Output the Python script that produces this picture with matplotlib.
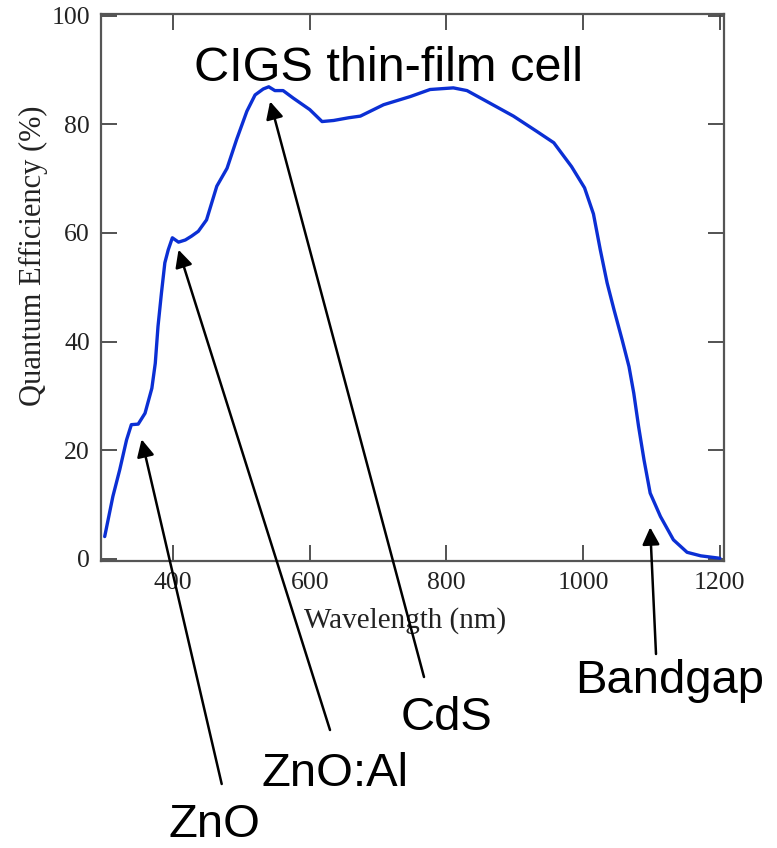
import matplotlib
matplotlib.use("Agg")
import matplotlib.pyplot as plt

# ---- data ----
wavelength = [300, 312, 322, 332, 339, 349, 359, 369, 374, 378, 383, 388, 393, 399,
              408, 418, 427, 437, 449, 464, 479, 493, 508, 520, 532, 540, 549, 561,
              576, 600, 618, 635, 657, 674, 708, 747, 776, 810, 830, 859, 898, 932,
              957, 983, 1002, 1015, 1025, 1035, 1045, 1057, 1067, 1074, 1081, 1089,
              1098, 1113, 1132, 1152, 1172, 1200]
qe = [4.1, 11.5, 16.4, 21.9, 24.7, 24.8, 26.8, 31.4, 36.0, 42.8, 48.9, 54.5, 56.9, 59.1,
      58.3, 58.7, 59.4, 60.3, 62.4, 68.6, 71.9, 77.2, 82.4, 85.4, 86.5, 86.9, 86.2, 86.2,
      84.8, 82.7, 80.5, 80.7, 81.2, 81.5, 83.6, 85.1, 86.4, 86.7, 86.2, 84.2, 81.5, 78.7,
      76.6, 72.2, 68.3, 63.5, 56.9, 50.8, 45.9, 40.3, 35.4, 30.5, 24.4, 18.2,
      12.1, 7.8, 3.5, 1.2, 0.55, 0.1]

x_ticks = [400, 600, 800, 1000, 1200]
y_ticks = [0, 20, 40, 60, 80, 100]

title_text = "CIGS thin-film cell"
ann_labels = ["ZnO", "ZnO:Al", "CdS", "Bandgap"]
ann_target_wl = [354, 408, 542, 1098]
ann_target_qe = [22.0, 56.9, 84.2, 5.8]

# layout (figure pixels, origin bottom-left)
ann_tail_px = [(221.7, 64), (330, 118), (424, 171), (656, 194)]
ann_text_px = [(214, 11), (335, 62), (446, 118), (670, 155)]

W, H = 777, 848
fig = plt.figure(figsize=(W / 100, H / 100), dpi=100)
ax = fig.add_axes([101 / W, 1 - 561 / H, (724 - 101) / W, (561 - 14) / H])

ax.plot(wavelength, qe, color="#0b2fd4", lw=2.4, solid_joinstyle="round",
        solid_capstyle="round")

ax.set_xlim(294.6, 1206)
ax.set_ylim(-0.4, 100.3)
ax.set_xticks(x_ticks)
ax.set_yticks(y_ticks)

serif = "Liberation Serif"
sans = "Liberation Sans"
ax.tick_params(direction="in", length=11.5, width=1.3, colors="#444444",
               labelcolor="#222222", labelsize=18.5, pad=8,
               top=True, right=True)
for lab in ax.get_xticklabels() + ax.get_yticklabels():
    lab.set_fontfamily(serif)
for sp in ax.spines.values():
    sp.set_color("#555555")
    sp.set_linewidth(1.6)

xl = ax.set_xlabel("Wavelength (nm)", fontfamily=serif, fontsize=21, color="#222222")
yl = ax.set_ylabel("Quantum Efficiency (%)", fontfamily=serif, fontsize=22, color="#222222")
ax.xaxis.set_label_coords(0.488, -0.108)
ax.yaxis.set_label_coords(-0.109, 0.558)
xl.set_va("center")
yl.set_va("center")

fig.text(388 / W, 767 / H, title_text, fontfamily=sans, fontsize=35,
         ha="center", va="baseline", color="black")

for lab, wl, q, tail, tpos in zip(ann_labels, ann_target_wl, ann_target_qe,
                                  ann_tail_px, ann_text_px):
    ax.annotate("", xy=(wl, q), xycoords="data", xytext=tail,
                textcoords="figure pixels", annotation_clip=False,
                arrowprops=dict(arrowstyle="-|>", color="black", lw=1.8,
                                mutation_scale=26, shrinkA=0, shrinkB=0))
    fig.text(tpos[0] / W, tpos[1] / H, lab, fontfamily=sans, fontsize=34,
             ha="center", va="baseline", color="black")

fig.savefig("out.png", dpi=100)
